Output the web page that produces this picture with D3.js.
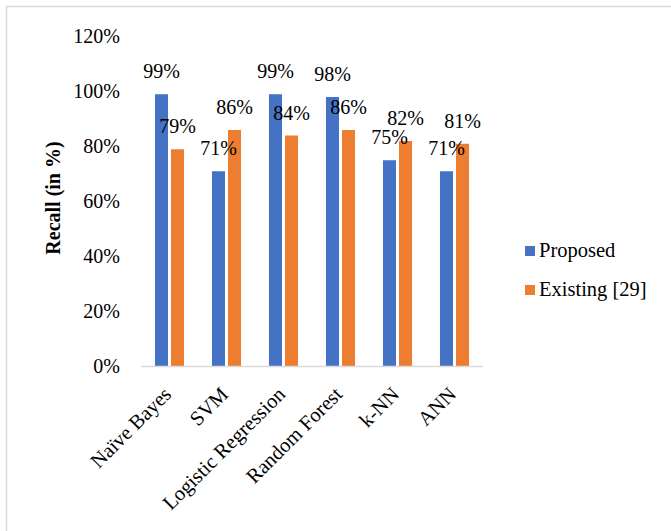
<!DOCTYPE html>
<html>
<head>
<meta charset="utf-8">
<script src="https://cdn.jsdelivr.net/npm/d3@7"></script>
<style>
  body { margin: 0; background: #fff; }
  svg { display: block; font-family: "Liberation Serif", "Times New Roman", serif; }
</style>
</head>
<body>
<div id="chart"></div>
<script>
// Recall per classifier, proposed vs existing
const categories = ["Naïve Bayes", "SVM", "Logistic Regression", "Random Forest", "k-NN", "ANN"];
const seriesNames = ["Proposed", "Existing [29]"];
const proposed = [0.99, 0.71, 0.99, 0.98, 0.75, 0.71];
const existing = [0.79, 0.86, 0.84, 0.86, 0.82, 0.81];
const yTicks = [0, 0.2, 0.4, 0.6, 0.8, 1.0, 1.2];

const COLORS = ["#4472C4", "#ED7D31"];
const width = 671, height = 531;

const data = categories.map((c, i) => ({ cat: c, values: [proposed[i], existing[i]] }));

const svg = d3.select("#chart").append("svg")
  .attr("width", width)
  .attr("height", height);

// Chart area border (only top and left fall inside the frame)
svg.append("rect")
  .attr("x", 6.5).attr("y", 6.5)
  .attr("width", 700).attr("height", 600)
  .attr("fill", "none")
  .attr("stroke", "#d9d9d9")
  .attr("stroke-width", 1.5);

const plot = { left: 141, right: 483, top: 36.5, bottom: 366.5 };

const x0 = d3.scaleBand()
  .domain(categories)
  .range([plot.left, plot.right])
  .paddingInner(0.49)
  .paddingOuter(0.245);

const x1 = d3.scaleBand()
  .domain(seriesNames)
  .range([0, x0.bandwidth()])
  .paddingInner(0.1875);

const y = d3.scaleLinear()
  .domain([0, 1.2])
  .range([plot.bottom, plot.top]);

const color = d3.scaleOrdinal().domain(seriesNames).range(COLORS);
const pct = d3.format(".0%");

// Y axis labels only, no tick lines or domain
const gy = svg.append("g")
  .attr("transform", `translate(${plot.left},0)`)
  .call(d3.axisLeft(y).tickValues(yTicks).tickFormat(pct).tickSize(0).tickPadding(21));
gy.select(".domain").remove();
gy.selectAll("text")
  .attr("font-family", "Liberation Serif, Times New Roman, serif")
  .attr("font-size", 20)
  .attr("fill", "#000");

// Bars
const groups = svg.append("g")
  .selectAll("g")
  .data(data)
  .join("g")
  .attr("transform", (d) => `translate(${x0(d.cat)},0)`);

groups.selectAll("rect")
  .data((d) => d.values.map((v, i) => ({ key: seriesNames[i], v })))
  .join("rect")
  .attr("x", (d) => x1(d.key))
  .attr("y", (d) => y(d.v))
  .attr("width", x1.bandwidth())
  .attr("height", (d) => y(0) - y(d.v))
  .attr("fill", (d) => color(d.key));

// Value labels above each bar
groups.selectAll("text")
  .data((d) => d.values.map((v, i) => ({ key: seriesNames[i], v })))
  .join("text")
  .attr("x", (d) => x1(d.key) + x1.bandwidth() / 2)
  .attr("y", (d) => y(d.v) - 16)
  .attr("text-anchor", "middle")
  .attr("font-size", 20)
  .attr("fill", "#000")
  .text((d) => pct(d.v));

// Baseline
svg.append("line")
  .attr("x1", plot.left).attr("x2", plot.right)
  .attr("y1", y(0)).attr("y2", y(0))
  .attr("stroke", "#d9d9d9")
  .attr("stroke-width", 1.5);

// X category labels, rotated
svg.append("g")
  .selectAll("text")
  .data(categories)
  .join("text")
  .attr("transform", (d) => `translate(${x0(d) + x0.bandwidth() / 2 + 3},${y(0) + 29}) rotate(-45)`)
  .attr("text-anchor", "end")
  .attr("font-size", 20.5)
  .attr("fill", "#000")
  .text((d) => d);

// Y axis title
svg.append("text")
  .attr("transform", `translate(59.5,${198}) rotate(-90)`)
  .attr("text-anchor", "middle")
  .attr("font-size", 20)
  .attr("font-weight", "bold")
  .attr("fill", "#000")
  .text("Recall (in %)");

// Legend
const legend = svg.append("g")
  .selectAll("g")
  .data(seriesNames)
  .join("g")
  .attr("transform", (d, i) => `translate(525,${246 + i * 39})`);

legend.append("rect")
  .attr("width", 10).attr("height", 10)
  .attr("fill", (d) => color(d));

legend.append("text")
  .attr("x", 14).attr("y", 11)
  .attr("font-size", 20.5)
  .attr("fill", "#000")
  .text((d) => d);
</script>
</body>
</html>
